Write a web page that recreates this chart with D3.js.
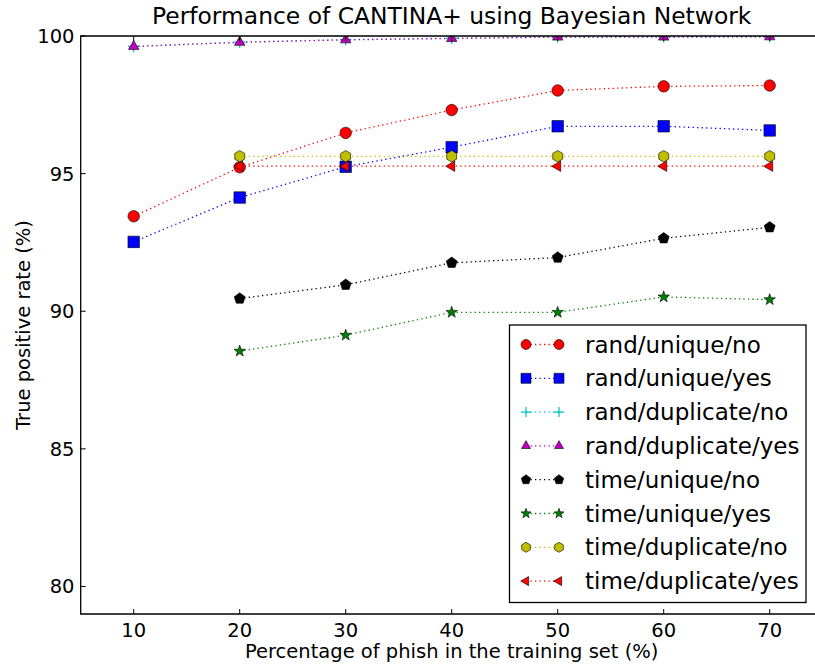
<!DOCTYPE html>
<html><head><meta charset="utf-8">
<script src="https://cdn.jsdelivr.net/npm/d3@7"></script>
<style>body{margin:0;background:#fff;} text{font-family:"DejaVu Sans",sans-serif;}</style>
</head><body><svg id="c" width="815" height="666"></svg>
<script>
const xValues = [10, 20, 30, 40, 50, 60, 70];
const xTicks = [10, 20, 30, 40, 50, 60, 70];
const yTicks = [80, 85, 90, 95, 100];
const seriesNames = ["rand/unique/no","rand/unique/yes","rand/duplicate/no","rand/duplicate/yes","time/unique/no","time/unique/yes","time/duplicate/no","time/duplicate/yes"];
const randUniqueNo = [93.45, 95.23, 96.48, 97.31, 98.02, 98.17, 98.2];
const randUniqueYes = [92.52, 94.13, 95.25, 95.96, 96.72, 96.72, 96.57];
const randDuplicateNo = [99.62, 99.78, 99.87, 99.92, 99.96, 99.97, 99.97];
const randDuplicateYes = [99.62, 99.77, 99.86, 99.91, 99.96, 99.96, 99.97];
const timeUniqueNo = [null, 90.46, 90.96, 91.76, 91.95, 92.65, 93.05];
const timeUniqueYes = [null, 88.55, 89.13, 89.96, 89.96, 90.52, 90.42];
const timeDuplicateNo = [null, 95.63, 95.63, 95.63, 95.63, 95.63, 95.63];
const timeDuplicateYes = [null, 95.27, 95.27, 95.27, 95.27, 95.27, 95.27];
const seriesColors = ["#ff0000","#0000ff","#00bfbf","#bf00bf","#000000","#008000","#bfbf00","#ff0000"];
const seriesMarkers = ["circle","square","plus","triUp","pentagon","star","hexagon","triLeft"];
const seriesValues = [randUniqueNo, randUniqueYes, randDuplicateNo, randDuplicateYes, timeUniqueNo, timeUniqueYes, timeDuplicateNo, timeDuplicateYes];

const svg = d3.select("#c");
const L = 80.7, R = 822.7, T = 36, B = 614;
const x = d3.scaleLinear().domain([5, 75]).range([L, R]);
const y = d3.scaleLinear().domain([79, 100]).range([B, T]);

function poly(n, r, rot) {
  const pts = [];
  for (let i = 0; i < n; i++) {
    const a = rot + i * 2 * Math.PI / n;
    pts.push([r * Math.cos(a), r * Math.sin(a)]);
  }
  return "M" + pts.map(p => p.join(",")).join("L") + "Z";
}
function markerPath(type, s) {
  const r = s / 2;
  switch (type) {
    case "circle": return d3.symbol(d3.symbolCircle, Math.PI * r * r)();
    case "square": return `M${-r},${-r}H${r}V${r}H${-r}Z`;
    case "plus": return `M${-r},0H${r}M0,${-r}V${r}`;
    case "triUp": return poly(3, r * 1.05, -Math.PI / 2);
    case "triLeft": return poly(3, r * 1.05, Math.PI);
    case "pentagon": return poly(5, r * 1.0, -Math.PI / 2);
    case "hexagon": return poly(6, r * 1.0, -Math.PI / 2);
    case "star": {
      const pts = [];
      for (let i = 0; i < 10; i++) {
        const a = -Math.PI / 2 + i * Math.PI / 5;
        const rr = i % 2 === 0 ? r * 1.05 : r * 0.42;
        pts.push([rr * Math.cos(a), rr * Math.sin(a)]);
      }
      return "M" + pts.map(p => p.join(",")).join("L") + "Z";
    }
  }
}

svg.append("defs").append("clipPath").attr("id", "clip")
  .append("rect").attr("x", L).attr("y", T).attr("width", R - L).attr("height", B - T);

const plot = svg.append("g").attr("clip-path", "url(#clip)");
const line = d3.line().defined(d => d[1] != null).x(d => x(d[0])).y(d => y(d[1]));
const markerSize = 11.5;

seriesValues.forEach((vals, i) => {
  const pts = xValues.map((xv, j) => [xv, vals[j]]);
  plot.append("path").attr("d", line(pts)).attr("fill", "none")
    .attr("stroke", seriesColors[i]).attr("stroke-width", 1.3)
    .attr("stroke-dasharray", "1.3,3.2");
  pts.filter(p => p[1] != null).forEach(p => {
    const m = seriesMarkers[i];
    plot.append("path").attr("d", markerPath(m, markerSize))
      .attr("transform", `translate(${x(p[0])},${y(p[1])})`)
      .attr("fill", m === "plus" ? "none" : seriesColors[i])
      .attr("stroke", m === "plus" ? seriesColors[i] : "#000")
      .attr("stroke-width", m === "plus" ? 1.2 : 0.6);
  });
});

// spines
const spine = svg.append("g").attr("stroke", "#000").attr("stroke-width", 1.3).attr("fill", "none");
spine.append("path").attr("d", `M${L},${T}H${R}V${B}H${L}Z`);

// ticks (inward)
const tk = svg.append("g").attr("stroke", "#000").attr("stroke-width", 1);
xTicks.forEach(v => {
  tk.append("line").attr("x1", x(v)).attr("x2", x(v)).attr("y1", B).attr("y2", B - 5);
  tk.append("line").attr("x1", x(v)).attr("x2", x(v)).attr("y1", T).attr("y2", T + 5);
});
yTicks.forEach(v => {
  tk.append("line").attr("x1", L).attr("x2", L + 5).attr("y1", y(v)).attr("y2", y(v));
  tk.append("line").attr("x1", R).attr("x2", R - 5).attr("y1", y(v)).attr("y2", y(v));
});
svg.append("g").selectAll("text").data(xTicks).join("text")
  .attr("x", d => x(d)).attr("y", 637).attr("text-anchor", "middle")
  .attr("font-size", 19.5).text(d => d);
svg.append("g").selectAll("text").data(yTicks).join("text")
  .attr("x", 74.5).attr("y", d => y(d) + 7).attr("text-anchor", "end")
  .attr("font-size", 19.5).text(d => d);

svg.append("text").attr("x", (L + R) / 2).attr("y", 24).attr("text-anchor", "middle")
  .attr("font-size", 23.4).text("Performance of CANTINA+ using Bayesian Network");
svg.append("text").attr("x", (L + R) / 2).attr("y", 658).attr("text-anchor", "middle")
  .attr("font-size", 19.5).text("Percentage of phish in the training set (%)");
svg.append("text").attr("transform", `translate(30,${(T + B) / 2}) rotate(-90)`)
  .attr("text-anchor", "middle").attr("font-size", 19.5).text("True positive rate (%)");

// legend
const lg = svg.append("g");
lg.append("rect").attr("x", 509.5).attr("y", 325).attr("width", 296.5).attr("height", 277.5)
  .attr("fill", "#fff").attr("stroke", "#000").attr("stroke-width", 1.3);
seriesNames.forEach((name, i) => {
  const ry = 344.5 + i * 33.8;
  lg.append("line").attr("x1", 526).attr("x2", 559).attr("y1", ry).attr("y2", ry)
    .attr("stroke", seriesColors[i]).attr("stroke-width", 1.3).attr("stroke-dasharray", "1.3,3.2");
  [526, 559].forEach(mx => {
    const m = seriesMarkers[i];
    lg.append("path").attr("d", markerPath(m, 10))
      .attr("transform", `translate(${mx},${ry})`)
      .attr("fill", m === "plus" ? "none" : seriesColors[i])
      .attr("stroke", m === "plus" ? seriesColors[i] : "#000")
      .attr("stroke-width", m === "plus" ? 1.2 : 0.6);
  });
  lg.append("text").attr("x", 585).attr("y", ry + 8).attr("font-size", 23).text(name);
});
</script></body></html>
